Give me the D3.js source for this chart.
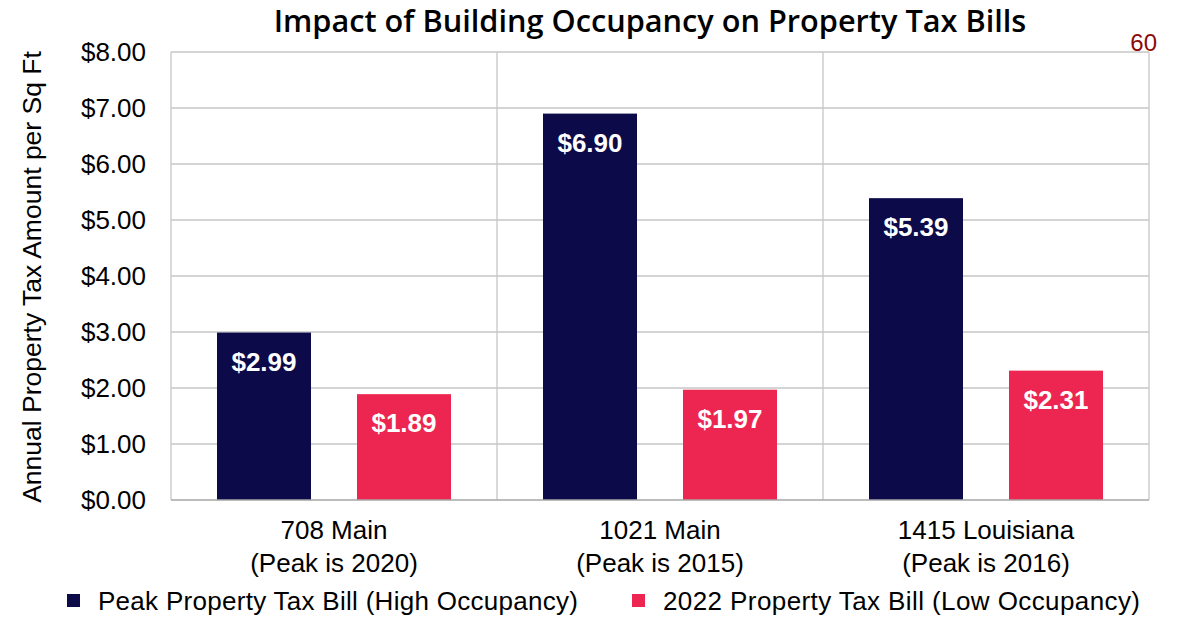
<!DOCTYPE html>
<html>
<head>
<meta charset="utf-8">
<script src="https://cdn.jsdelivr.net/npm/d3@7"></script>
<style>
  html, body { margin: 0; padding: 0; background: #fff; }
  svg { display: block; }
</style>
</head>
<body>
<svg id="chart" width="1178" height="617"></svg>
<script>
// Buildings compared, with the year each peaked
const categories = ["708 Main", "1021 Main", "1415 Louisiana"];
const peakYears = ["(Peak is 2020)", "(Peak is 2015)", "(Peak is 2016)"];
const seriesNames = ["Peak Property Tax Bill (High Occupancy)", "2022 Property Tax Bill (Low Occupancy)"];
const peakValues = [2.99, 6.90, 5.39];
const lowValues = [1.89, 1.97, 2.31];
const yTicks = [0, 1, 2, 3, 4, 5, 6, 7, 8];

const colors = ["#0d0a4a", "#ec2650"];
const svg = d3.select("#chart");
const m = { left: 171, right: 1149, top: 52, bottom: 500 };
const FONT = "Liberation Sans, Arial, sans-serif";

const x = d3.scaleBand().domain(categories).range([m.left, m.right]).padding(0);
const x1 = d3.scaleBand().domain([0, 1]).range([0, x.bandwidth()]).paddingInner(0.3286).paddingOuter(0.3286);
const y = d3.scaleLinear().domain([0, 8]).range([m.bottom, m.top]);

const fmt = v => "$" + d3.format(".2f")(v);

// horizontal gridlines
svg.append("g").selectAll("line").data(yTicks.filter(t => t > 0)).join("line")
  .attr("x1", m.left).attr("x2", m.right)
  .attr("y1", d => y(d)).attr("y2", d => y(d))
  .attr("stroke", "#c6c6c6").attr("stroke-width", 1.3);

// vertical category separators and frame edges
const vx = [m.left, ...categories.slice(1).map(c => x(c)), m.right];
svg.append("g").selectAll("line").data(vx).join("line")
  .attr("x1", d => d).attr("x2", d => d)
  .attr("y1", m.top).attr("y2", m.bottom)
  .attr("stroke", "#c6c6c6").attr("stroke-width", 1.3);

// bars
const rows = categories.map((c, i) => ({ c, vals: [peakValues[i], lowValues[i]] }));
const groups = svg.append("g").selectAll("g").data(rows).join("g")
  .attr("transform", d => `translate(${x(d.c)},0)`);

groups.selectAll("rect").data(d => d.vals.map((v, k) => ({ v, k }))).join("rect")
  .attr("x", d => x1(d.k))
  .attr("width", x1.bandwidth())
  .attr("y", d => y(d.v))
  .attr("height", d => y(0) - y(d.v))
  .attr("fill", d => colors[d.k]);

groups.selectAll("text.val").data(d => d.vals.map((v, k) => ({ v, k }))).join("text")
  .attr("class", "val")
  .attr("x", d => x1(d.k) + x1.bandwidth() / 2)
  .attr("y", d => y(d.v) + 38)
  .attr("text-anchor", "middle")
  .attr("fill", "#fff")
  .attr("font-family", FONT)
  .attr("font-weight", "bold")
  .attr("font-size", 26)
  .text(d => fmt(d.v));

// baseline
svg.append("line")
  .attr("x1", m.left).attr("x2", m.right)
  .attr("y1", y(0)).attr("y2", y(0))
  .attr("stroke", "#a6a6a6").attr("stroke-width", 1.5);

// y axis tick labels
const yAxis = d3.axisLeft(y).tickValues(yTicks).tickFormat(fmt).tickSize(0).tickPadding(25);
const ya = svg.append("g").attr("transform", `translate(${m.left},0)`).call(yAxis);
ya.select(".domain").remove();
ya.selectAll("text")
  .attr("font-family", FONT)
  .attr("font-size", 26)
  .attr("fill", "#000");

// x axis category labels (two lines)
const xa = svg.append("g").attr("transform", `translate(0,${m.bottom})`)
  .call(d3.axisBottom(x).tickSize(0).tickFormat(() => ""));
xa.select(".domain").remove();
xa.selectAll(".tick text").remove();
xa.selectAll(".tick").each(function (c, i) {
  const t = d3.select(this).append("text")
    .attr("text-anchor", "middle")
    .attr("font-family", FONT)
    .attr("font-size", 26)
    .attr("fill", "#000");
  t.append("tspan").attr("x", 0).attr("y", 39).text(c);
  t.append("tspan").attr("x", 0).attr("y", 72).text(peakYears[i]);
});

// y axis title
svg.append("text")
  .attr("transform", `translate(41,${(m.top + m.bottom) / 2 + 1}) rotate(-90)`)
  .attr("text-anchor", "middle")
  .attr("font-family", FONT)
  .attr("font-size", 26.5)
  .attr("fill", "#000")
  .text("Annual Property Tax Amount per Sq Ft");

// title, sized to span its slot
const title = svg.append("text")
  .attr("x", 650).attr("y", 32)
  .attr("text-anchor", "middle")
  .attr("font-family", "Open Sans, sans-serif")
  .attr("font-weight", 600)
  .attr("font-size", 26)
  .attr("fill", "#000")
  .text("Impact of Building Occupancy on Property Tax Bills");
const tw = title.node().getComputedTextLength();
title.attr("font-size", 26 * 753 / tw);

// page number
svg.append("text")
  .attr("x", 1157).attr("y", 51)
  .attr("text-anchor", "end")
  .attr("font-family", FONT)
  .attr("font-size", 24)
  .attr("fill", "#8b0a0a")
  .text("60");

// legend
const legendX = [67, 632];
const legendW = [480, 477];
const lg = svg.append("g").selectAll("g").data(seriesNames).join("g")
  .attr("transform", (d, i) => `translate(${legendX[i]},594)`);
lg.append("rect").attr("width", 13).attr("height", 13).attr("fill", (d, i) => colors[i]);
lg.append("text")
  .attr("x", 31).attr("y", 16)
  .attr("font-family", FONT)
  .attr("font-size", 26)
  .attr("textLength", (d, i) => legendW[i])
  .attr("lengthAdjust", "spacing")
  .attr("fill", "#000")
  .text(d => d);
</script>
</body>
</html>
